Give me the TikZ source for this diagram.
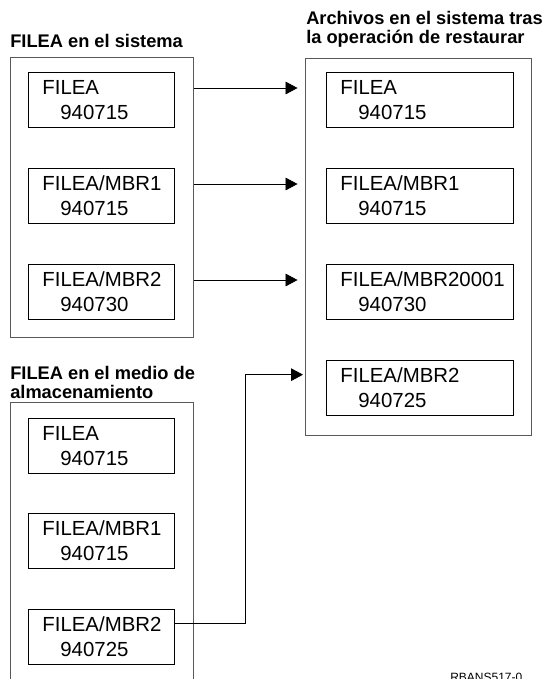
\documentclass[tikz,border=0pt]{standalone}
\usepackage{fontspec}
\setmainfont{Liberation Sans}
\usetikzlibrary{arrows.meta,positioning,calc}

% member entry: name on the first line, date indented below
\newcommand{\mbr}[2]{\mbox{#1}\\\hspace*{13.5pt}#2}

\begin{document}
\begin{tikzpicture}[
  x=0.75pt, y=-0.75pt, >={Triangle[length=9pt,width=9.5pt]},
  group/.style={draw=black!65, line width=0.9pt, inner sep=0pt, anchor=north west},
  title/.style={font=\fontsize{13.7}{14.2}\selectfont\bfseries, inner sep=0pt,
    anchor=north west, align=left},
  member/.style={draw, line width=0.6pt, anchor=north west, minimum height=41.25pt,
    inner xsep=10.5pt, inner ysep=0pt, align=left, text width=88.5pt,
    font=\fontsize{15.3}{18.75}\selectfont},
  wide/.style={text width=119.25pt},
  link/.style={->, line width=0.6pt}
]
\useasboundingbox (0,0) rectangle (548,679);
\clip (0,0) rectangle (548,679);

% files on the system
\node[title] (systitle) at (10,33.7) {FILEA en el sistema};
\node[group, minimum width=137.25pt, minimum height=210pt] (sys) at (10,57) {};
  \node[member] (sys1) at (28,72) {\mbr{FILEA}{940715}};
  \node[member] (sys2) at (28,168) {\mbr{FILEA/MBR1}{940715}};
  \node[member] (sys3) at (28,264) {\mbr{FILEA/MBR2}{940730}};

% files after the restore
\node[title] (resttitle) at (306,10.7) {Archivos en el sistema tras\\la operación de restaurar};
\node[group, minimum width=169.5pt, minimum height=282.75pt] (rest) at (305,58) {};
  \node[member,wide] (rest1) at (326,72) {\mbr{FILEA}{940715}};
  \node[member,wide] (rest2) at (326,168) {\mbr{FILEA/MBR1}{940715}};
  \node[member,wide] (rest3) at (326,264) {\mbr{FILEA/MBR20001}{940730}};
  \node[member,wide] (rest4) at (326,360) {\mbr{FILEA/MBR2}{940725}};

% files on the media
\node[title] (medtitle) at (10,365.7) {FILEA en el medio de\\almacenamiento};
\node[group, minimum width=137.25pt, minimum height=240pt] (med) at (10,402) {};
  \node[member] (med1) at (28,418) {\mbr{FILEA}{940715}};
  \node[member] (med2) at (28,513) {\mbr{FILEA/MBR1}{940715}};
  \node[member] (med3) at (28,609) {\mbr{FILEA/MBR2}{940725}};

\node[font=\fontsize{9}{9}\selectfont, inner sep=0pt, anchor=base west] (figid) at (450,681) {RBANS517-0};

\draw[link, shorten >=5.6pt] ([yshift=-12pt]sys1.north -| sys.east) -- ([yshift=-12pt]sys1.north -| rest.west);
\draw[link, shorten >=5.6pt] ([yshift=-12pt]sys2.north -| sys.east) -- ([yshift=-12pt]sys2.north -| rest.west);
\draw[link, shorten >=5.6pt] ([yshift=-12pt]sys3.north -| sys.east) -- ([yshift=-12pt]sys3.north -| rest.west);
\draw[link, shorten >=1.5pt] ([yshift=-10.5pt]med3.north east) -- ++(53.25pt,0)
  |- ([yshift=-11pt]rest4.north -| rest.west);
\end{tikzpicture}
\end{document}
